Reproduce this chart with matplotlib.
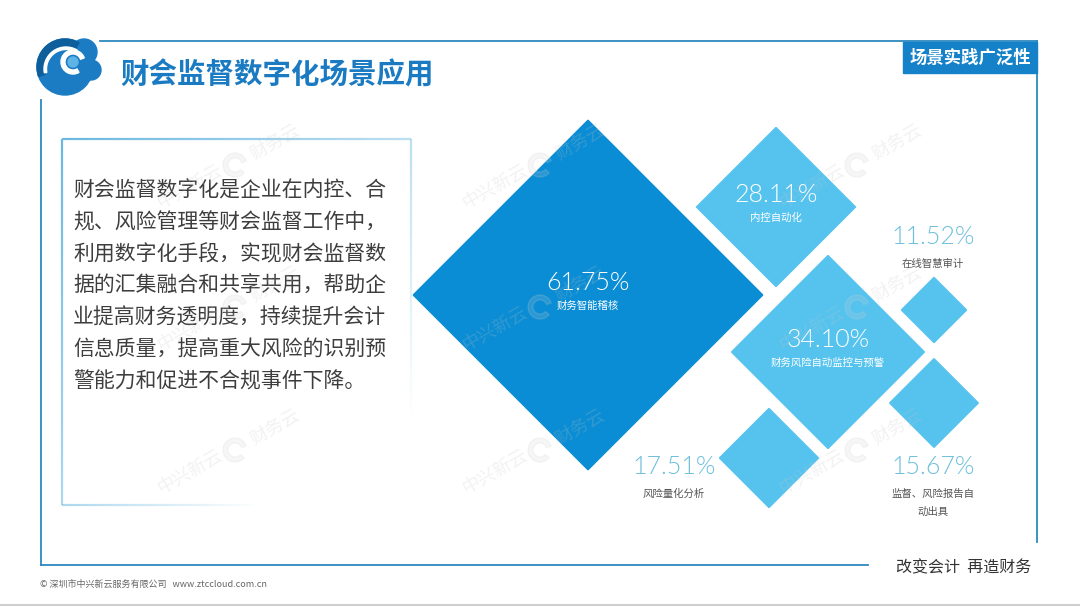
import numpy as np
import matplotlib
matplotlib.use("Agg")
import matplotlib.pyplot as plt
from matplotlib.patches import RegularPolygon, Circle, Rectangle, Wedge
from matplotlib.collections import LineCollection

plt.rcParams['font.family'] = ['Noto Sans CJK SC', 'DejaVu Sans']

# data
title = "财会监督数字化场景应用"
tag = "场景实践广泛性"
body_lines = [
    "财会监督数字化是企业在内控、合",
    "规、风险管理等财会监督工作中，",
    "利用数字化手段，实现财会监督数",
    "据的汇集融合和共享共用，帮助企",
    "业提高财务透明度，持续提升会计",
    "信息质量，提高重大风险的识别预",
    "警能力和促进不合规事件下降。",
]
scene_names = ["财务智能稽核", "内控自动化", "财务风险自动监控与预警",
               "在线智慧审计", "监督、风险报告自\n动出具", "风险量化分析"]
scene_values = [61.75, 28.11, 34.10, 11.52, 15.67, 17.51]
slogan = "改变会计  再造财务"
copyright_text = "© 深圳市中兴新云服务有限公司   www.ztccloud.com.cn"

# layout (pixel coordinates)
centers = [(588, 295), (776, 207), (828, 352), (934, 310), (934, 403), (769, 458)]
px_per_pct = 2.83
# label placement: None = inside the diamond, else (x, y) of the value text
outside_pos = [None, None, None, (933, 237), (933, 467), (674, 467)]

BLUE_DARK = "#0a8dd4"
BLUE_LIGHT = "#56c3ef"
FRAME = "#2e89bf"
NUM_FONT = ['Lato', 'Noto Sans CJK SC']

fig = plt.figure(figsize=(10.8, 6.07), dpi=100)
ax = fig.add_axes([0, 0, 1, 1])
ax.set_xlim(0, 1080)
ax.set_ylim(607, 0)
ax.axis("off")

# outer frame
ax.plot([100, 1037], [41, 41], color=FRAME, lw=1.3)
ax.plot([1037, 1037], [41, 542], color=FRAME, lw=1.3)
ax.plot([41, 41], [100, 565], color=FRAME, lw=1.3)
ax.plot([41, 41 + 827], [565, 565], color=FRAME, lw=1.3)
ax.plot([0, 1080], [605, 605], color="#cfcfcf", lw=1.5)

# logo
logo_blue = "#1b7cc4"
ax.add_patch(Circle((65, 67), 28, color=logo_blue, zorder=3))
ax.add_patch(Circle((84, 52), 13, color=logo_blue, zorder=3))
ax.add_patch(Circle((91, 70), 10, color=logo_blue, zorder=3))
ax.add_patch(Wedge((65, 67), 28, 160, 300, width=7, color="#0e5e9c", zorder=4))
ax.add_patch(Wedge((66, 69), 22, 170, 300, width=2.5, color="white", zorder=5))
ax.add_patch(Wedge((73, 62), 12, 60, 340, width=4, color="white", zorder=5))
ax.add_patch(Circle((73, 62), 5, color="#5fb4e6", zorder=5))

ax.text(120, 75, title, fontsize=20.5, fontweight="bold", color="#1b7bc2",
        va="center", ha="left")

# tag
ax.add_patch(Rectangle((903, 42), 134, 31, color="#1581c9", zorder=3))
ax.text(970, 57.5, tag, fontsize=12.5, fontweight="bold", color="white",
        va="center", ha="center", zorder=4)

# watermarks
for wx in [235, 540, 857]:
    for wy in [165, 307, 450]:
        ax.text(wx - 45, wy + 22, "中兴新云", fontsize=13, color="#c4c4c4", alpha=0.22,
                rotation=30, ha="center", va="center", zorder=6)
        ax.text(wx + 40, wy - 22, "财务云", fontsize=13, color="#c4c4c4", alpha=0.22,
                rotation=30, ha="center", va="center", zorder=6)
        ax.add_patch(Wedge((wx, wy), 12, 40, 340, width=5, color="#d0d0d0", alpha=0.18, zorder=6))

# text box with fading border
def fade_line(x0, y0, x1, y1, a0, a1, n=60):
    xs = np.linspace(x0, x1, n + 1)
    ys = np.linspace(y0, y1, n + 1)
    segs = [[(xs[i], ys[i]), (xs[i + 1], ys[i + 1])] for i in range(n)]
    alphas = np.linspace(a0, a1, n)
    cols = [(0.42, 0.72, 0.88, a) for a in alphas]
    ax.add_collection(LineCollection(segs, colors=cols, linewidths=1.6))

fade_line(62, 139, 411, 139, 1.0, 0.45)
fade_line(62, 139, 62, 505, 1.0, 0.55)
fade_line(411, 139, 411, 420, 0.45, 0.0)
fade_line(62, 505, 260, 505, 0.55, 0.0)

for i, line in enumerate(body_lines):
    ax.text(73, 191 + i * 31.7, line, fontsize=15, color="#3d3d3d",
            va="center", ha="left")

# diamonds
for i, (val, name) in enumerate(zip(scene_values, scene_names)):
    cx, cy = centers[i]
    color = BLUE_DARK if i == 0 else BLUE_LIGHT
    ax.add_patch(RegularPolygon((cx, cy), numVertices=4, radius=val * px_per_pct,
                                orientation=0, color=color, zorder=2))
    if outside_pos[i] is None:
        ax.text(cx, cy - 12, f"{val:.2f}%", fontsize=18, fontweight=300, family=NUM_FONT,
                color="white", ha="center", va="center", zorder=5)
        ax.text(cx, cy + 11, name, fontsize=7.5, color="white",
                ha="center", va="center", zorder=5)
    else:
        tx, ty = outside_pos[i]
        ax.text(tx, ty, f"{val:.2f}%", fontsize=18, fontweight=300, family=NUM_FONT,
                color="#6ebfdc", ha="center", va="center", zorder=5)
        ax.text(tx, ty + 22, name, fontsize=7.5, color="#555555", linespacing=2.0,
                ha="center", va="top", zorder=5)

# footer
ax.text(964, 568, slogan, fontsize=11.5, color="#333333", ha="center", va="center")
ax.text(40, 584, copyright_text, fontsize=6.5, color="#666666", ha="left", va="center")

fig.savefig("out.png", dpi=100)
